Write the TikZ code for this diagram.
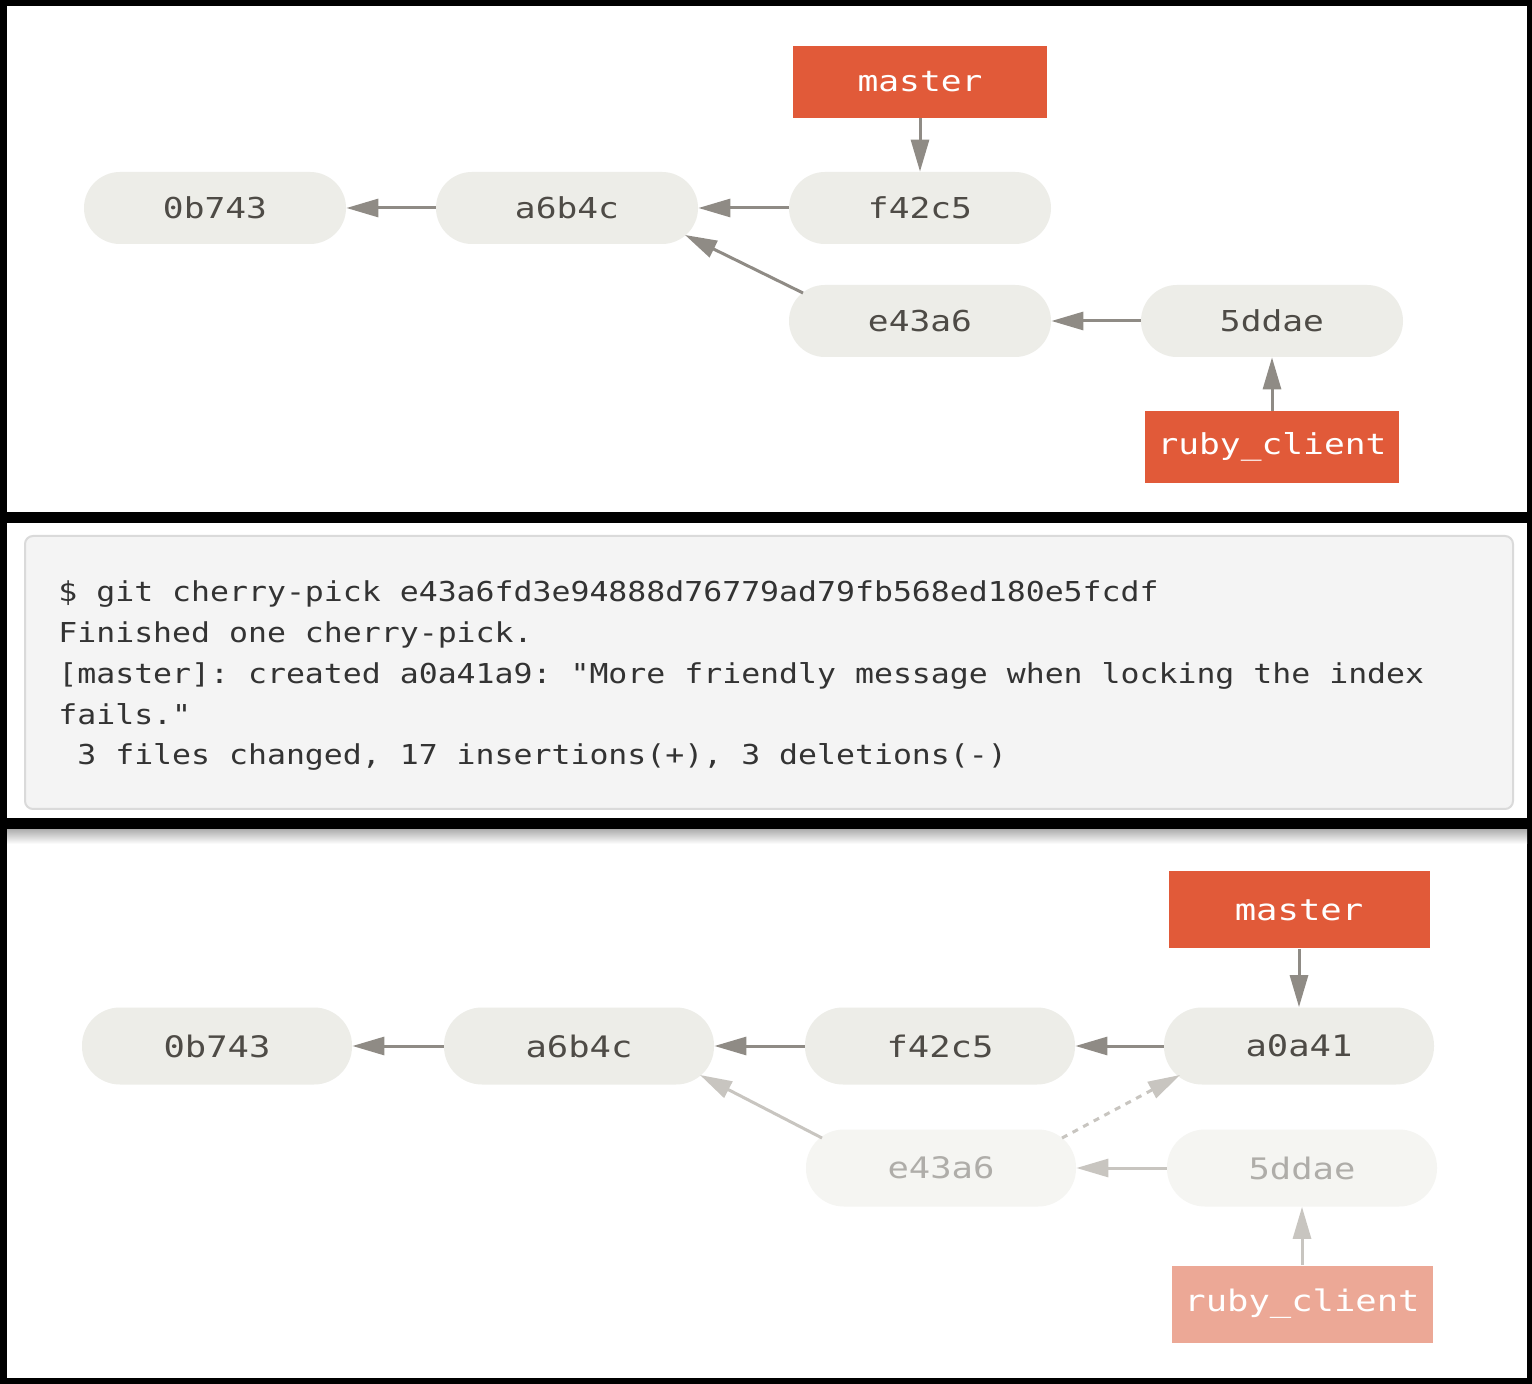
\documentclass[tikz,border=0pt]{standalone}
\usepackage{fontspec}
\usepackage{xcolor}
\usepackage{tikz}
\usetikzlibrary{arrows.meta,calc}
\newfontfamily\commitfont[FakeStretch=1.2]{DejaVu Sans Mono}
\newfontfamily\termfont[FakeStretch=1.15]{DejaVu Sans Mono}
\definecolor{pillfill}{RGB}{237,237,232}
\definecolor{pilltext}{RGB}{78,75,70}
\definecolor{arrowgray}{RGB}{143,139,133}
\definecolor{branchred}{RGB}{225,90,57}
\definecolor{fadedfill}{RGB}{245,245,242}
\definecolor{fadedtext}{RGB}{175,173,169}
\definecolor{fadedarrow}{RGB}{200,197,192}
\definecolor{fadedred}{RGB}{236,168,150}
\definecolor{termfill}{RGB}{244,244,244}
\definecolor{termline}{RGB}{218,218,218}
\definecolor{termtext}{RGB}{51,51,51}
\frenchspacing

\begin{document}
\begin{tikzpicture}[x=0.5pt,y=-0.5pt,
  commit/.style={fill=pillfill,text=pilltext,rounded corners=18pt,inner sep=0pt,
                 minimum width=131pt,minimum height=36pt,
                 font=\commitfont\fontsize{14.4pt}{16pt}\selectfont},
  bigcommit/.style={commit,rounded corners=19pt,minimum width=135pt,minimum height=38.5pt,
                 font=\commitfont\fontsize{14.8pt}{16pt}\selectfont},
  faded/.style={fill=fadedfill,text=fadedtext},
  branch/.style={fill=branchred,text=white,inner sep=0pt,
                 minimum width=127pt,minimum height=36pt,
                 font=\commitfont\fontsize{14.4pt}{16pt}\selectfont},
  bigbranch/.style={branch,minimum width=130.5pt,minimum height=38.5pt,
                 font=\commitfont\fontsize{14.8pt}{16pt}\selectfont},
  parent/.style={-{Triangle[length=16pt,width=9pt]},line width=1.5pt,arrowgray},
  ghost/.style={parent,fadedarrow},
  termline/.style={anchor=base west,inner sep=0pt,text=termtext,
                 font=\termfont\fontsize{13.7pt}{16pt}\selectfont}
]

% Frame and panels
\useasboundingbox (0,0) rectangle (1532,1384);
\fill[black] (0,0) rectangle (1532,1384);
\fill[white] (7,6) rectangle (1527,512);
\fill[white] (7,523) rectangle (1527,818);
\fill[white] (7,830) rectangle (1527,1378);
\shade[top color=gray!60,bottom color=white] (7,830) rectangle (1527,844);

% Before the cherry-pick
\node[commit] (t0b) at (215,208) {0b743};
\node[commit] (ta6) at (567,208) {a6b4c};
\node[commit] (tf4) at (920,208) {f42c5};
\node[commit] (te4) at (920,321) {e43a6};
\node[commit] (t5d) at (1272,321) {5ddae};
\node[branch] (tmaster) at (920,82) {master};
\node[branch] (truby) at (1272,447) {ruby\_client};

\draw[parent] (tf4.west) -- (ta6.east);
\draw[parent] (ta6.west) -- (t0b.east);
\draw[parent] (t5d.west) -- (te4.east);
\draw[parent] ([shift={(-117,-28)}]te4.center) -- ([shift={(118,27)}]ta6.center);
\draw[parent] (tmaster.south) -- (tf4.north);
\draw[parent] (truby.north) -- (t5d.south);

% Terminal output
\draw[fill=termfill,draw=termline,line width=1pt,rounded corners=4pt]
  (25,536) rectangle (1513,809);
\foreach \txt [count=\i] in {
  {\$ git cherry-pick e43a6fd3e94888d76779ad79fb568ed180e5fcdf},
  {Finished one cherry-pick.},
  {[master]: created a0a41a9: "More friendly message when locking the index},
  {fails."},
  {\ 3 files changed, 17 insertions(+), 3 deletions(-)}} {
  \node[termline] (line\i) at (58,{602+40.7*(\i-1)}) {\txt};
}

% After the cherry-pick
\node[bigcommit] (b0b) at (217,1046) {0b743};
\node[bigcommit] (ba6) at (579,1046) {a6b4c};
\node[bigcommit] (bf4) at (940,1046) {f42c5};
\node[bigcommit] (ba0) at (1299,1046) {a0a41};
\node[bigcommit,faded] (be4) at (941,1168) {e43a6};
\node[bigcommit,faded] (b5d) at (1302,1168) {5ddae};
\node[bigbranch] (bmaster) at (1299,910) {master};
\node[bigbranch,fill=fadedred] (bruby) at (1302,1304) {ruby\_client};

\draw[parent] (ba0.west) -- (bf4.east);
\draw[parent] (bf4.west) -- (ba6.east);
\draw[parent] (ba6.west) -- (b0b.east);
\draw[parent] (bmaster.south) -- (ba0.north);
\draw[ghost] ([shift={(-119,-30)}]be4.center) -- ([shift={(121,29)}]ba6.center);
\draw[ghost,dashed] ([shift={(121,-30)}]be4.center) -- ([shift={(-119,29)}]ba0.center);
\draw[ghost] (b5d.west) -- (be4.east);
\draw[ghost] (bruby.north) -- (b5d.south);

\end{tikzpicture}
\end{document}
